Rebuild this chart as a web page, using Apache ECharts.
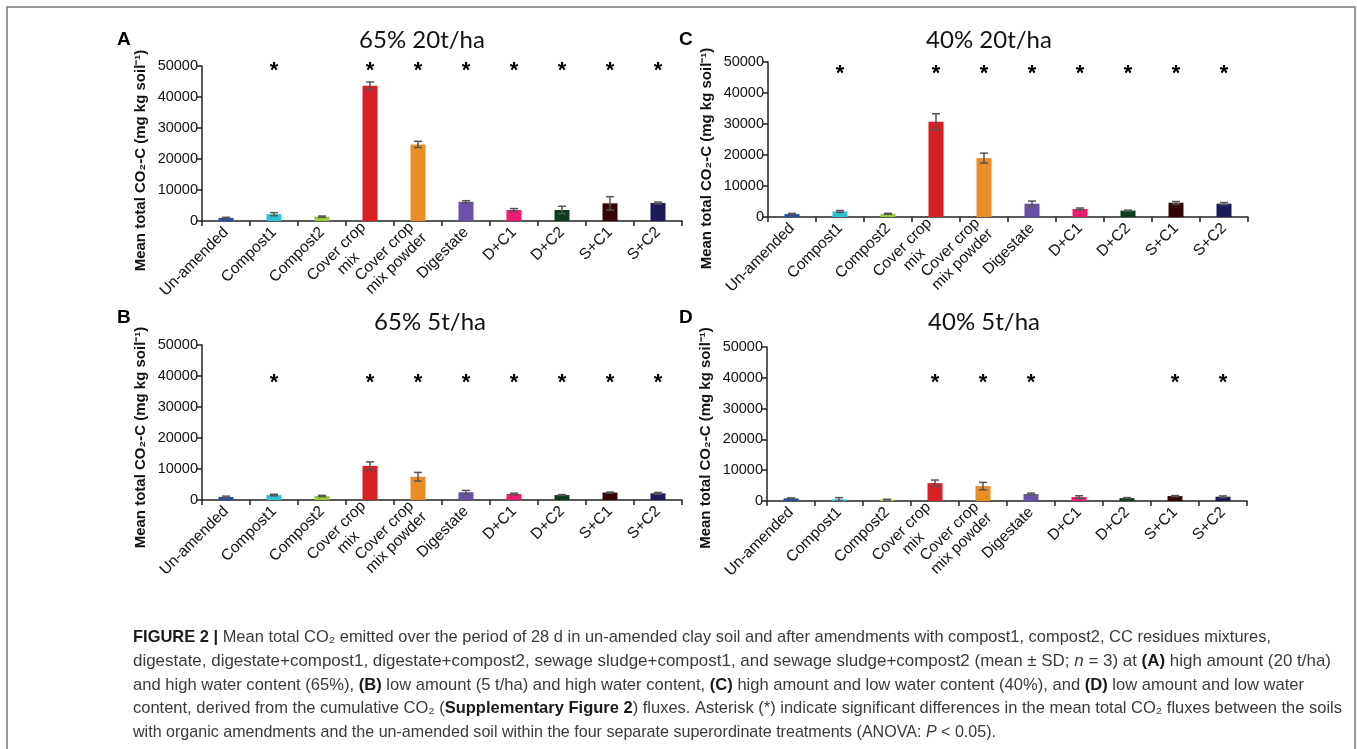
<!DOCTYPE html>
<html><head><meta charset="utf-8">
<script src="https://cdn.jsdelivr.net/npm/echarts@6/dist/echarts.min.js"></script>
<style>html,body{margin:0;padding:0;background:#fff}#c{width:1357px;height:749px}</style>
</head><body><div id="c"></div>
<script>
// ---------- data ----------
const categories = ['Un-amended','Compost1','Compost2','Cover crop mix','Cover crop mix powder','Digestate','D+C1','D+C2','S+C1','S+C2'];
const tickLabels = ['Un-amended','Compost1','Compost2','Cover crop\nmix','Cover crop\nmix powder','Digestate','D+C1','D+C2','S+C1','S+C2'];
const yTicks = [0, 10000, 20000, 30000, 40000, 50000];
const barColors = ['#1d4fa2','#2fc4d5','#9bc93c','#d91f26','#e98d27','#6a50a6','#ec1c6e','#0e3d1e','#360607','#1c1b57'];

// A: 65% 20t/ha
const meanA = [1000, 2200, 1400, 43600, 24700, 6200, 3550, 3550, 5700, 5800];
const sdA   = [200, 500, 200, 1250, 1000, 350, 450, 1200, 2150, 300];
const sigA  = [0,1,0,1,1,1,1,1,1,1];
// B: 65% 5t/ha
const meanB = [1000, 1600, 1300, 11000, 7500, 2500, 1950, 1600, 2400, 2150];
const sdB   = [250, 250, 200, 1300, 1400, 600, 250, 150, 150, 300];
const sigB  = [0,1,0,1,1,1,1,1,1,1];
// C: 40% 20t/ha
const meanC = [950, 1800, 1050, 30700, 19000, 4300, 2600, 2050, 4600, 4300];
const sdC   = [200, 300, 150, 2600, 1600, 850, 300, 150, 400, 350];
const sigC  = [0,1,0,1,1,1,1,1,1,1];
// D: 40% 5t/ha
const meanD = [850, 550, 450, 5800, 4850, 2250, 1300, 950, 1600, 1400];
const sdD   = [150, 550, 100, 1000, 1200, 300, 400, 150, 150, 250];
const sigD  = [0,0,0,1,1,1,0,0,1,1];

const panelTitles = ['65% 20t/ha', '65% 5t/ha', '40% 20t/ha', '40% 5t/ha'];
const panelLetters = ['A', 'B', 'C', 'D'];
const yAxisName = 'Mean total CO\u2082-C (mg kg soil\u207B\u00B9)';

const captionLines = [
  [['FIGURE 2 |','b'],[' Mean total CO\u2082 emitted over the period of 28 d in un-amended clay soil and after amendments with compost1, compost2, CC residues mixtures,','r']],
  [['digestate, digestate+compost1, digestate+compost2, sewage sludge+compost1, and sewage sludge+compost2 (mean \u00B1 SD; ','r'],['n','i'],[' = 3) at ','r'],['(A)','b'],[' high amount (20 t/ha)','r']],
  [['and high water content (65%), ','r'],['(B)','b'],[' low amount (5 t/ha) and high water content, ','r'],['(C)','b'],[' high amount and low water content (40%), and ','r'],['(D)','b'],[' low amount and low water','r']],
  [['content, derived from the cumulative CO\u2082 (','r'],['Supplementary Figure 2','b'],[') fluxes. Asterisk (*) indicate significant differences in the mean total CO\u2082 fluxes between the soils','r']],
  [['with organic amendments and the un-amended soil within the four separate superordinate treatments (ANOVA: ','r'],['P','i'],[' < 0.05).','r']]
];

// ---------- layout ----------
const panels = [
  {mean: meanA, sd: sdA, sig: sigA, grid:{left:202, top:66, width:480, height:155}, title:[422,40], letter:[117,40], shift:17, star:48400},
  {mean: meanB, sd: sdB, sig: sigB, grid:{left:202, top:345, width:480, height:155}, title:[430,322], letter:[117,318], shift:15, star:37700},
  {mean: meanC, sd: sdC, sig: sigC, grid:{left:768, top:62, width:480, height:155}, title:[989,40], letter:[679,40], shift:19, star:46000},
  {mean: meanD, sd: sdD, sig: sigD, grid:{left:767, top:347, width:480, height:154}, title:[984,322], letter:[679,318], shift:14, star:38300}
];
const captionX = 133;
const captionY = [637, 661, 685, 708, 732];
const captionRight = [1271, 1331, 1304, 1342, 996];
const captionSize = 17;
const capFamily = '"Liberation Sans", Arial, sans-serif';
const axisFont = '"Liberation Sans", Arial, sans-serif';

const chart = echarts.init(document.getElementById('c'), null, {renderer:'canvas'});

const grids = [], xAxes = [], yAxes = [], series = [], titles = [], graphics = [];
const axisColor = '#222';

panels.forEach((p, i) => {
  grids.push(Object.assign({}, p.grid));
  xAxes.push({
    type:'category', gridIndex:i, data: categories,
    axisLine:{lineStyle:{color:axisColor, width:1.5}},
    axisTick:{show:true, length:5, interval:0, alignWithLabel:false, lineStyle:{color:axisColor, width:1.5}},
    axisLabel:{
      interval:0, rotate:45, margin:9, color:'#111', fontSize:15.5, fontFamily:axisFont, lineHeight:17,
      formatter: (v, idx) => {
        const t = tickLabels[idx];
        if (t.indexOf('\n') < 0) return t;
        return t.split('\n').map(s => '{c|' + s + '}').join('\n');
      },
      rich:{c:{width:78, align:'center', fontSize:15.5, fontFamily:axisFont, color:'#111', lineHeight:17}}
    },
    splitLine:{show:false}
  });
  yAxes.push({
    type:'value', gridIndex:i, min:yTicks[0], max:yTicks[yTicks.length-1], interval:yTicks[1]-yTicks[0],
    axisLine:{show:true, lineStyle:{color:axisColor, width:1.5}},
    axisTick:{show:true, length:5, lineStyle:{color:axisColor, width:1.5}},
    axisLabel:{color:'#111', fontSize:14.5, fontFamily:axisFont, margin:4, formatter: v => String(v)},
    splitLine:{show:false},
    name: yAxisName, nameLocation:'middle', nameGap:54,
    nameTextStyle:{fontWeight:'bold', fontSize:15, color:'#111', fontFamily:axisFont, padding:[0, p.shift*2, 0, 0]}
  });
  series.push({
    type:'bar', xAxisIndex:i, yAxisIndex:i, barWidth:15,
    data: p.mean.map((v, k) => ({value:v, itemStyle:{color:barColors[k]}})),
    z:2
  });
  series.push({
    type:'custom', xAxisIndex:i, yAxisIndex:i, z:3,
    data: p.mean.map((v, k) => [k, v, p.sd[k]]),
    encode:{x:0, y:1},
    renderItem: (params, api) => {
      const x = api.value(0), m = api.value(1), s = api.value(2);
      const top = api.coord([x, m + s]), bot = api.coord([x, m - s]);
      const hw = 4, st = {stroke:'#555', lineWidth:1.5};
      return {type:'group', children:[
        {type:'line', shape:{x1:top[0], y1:top[1], x2:bot[0], y2:bot[1]}, style:st},
        {type:'line', shape:{x1:top[0]-hw, y1:top[1], x2:top[0]+hw, y2:top[1]}, style:st},
        {type:'line', shape:{x1:bot[0]-hw, y1:bot[1], x2:bot[0]+hw, y2:bot[1]}, style:st}
      ]};
    }
  });
  series.push({
    type:'scatter', xAxisIndex:i, yAxisIndex:i, symbolSize:1, z:4,
    itemStyle:{color:'rgba(0,0,0,0)'},
    data: p.sig.map((s, k) => s ? [k, p.star] : null).filter(d => d),
    label:{show:true, position:'inside', formatter:'*', fontSize:22, fontWeight:'bold', color:'#000', fontFamily:axisFont, opacity:1},
    emphasis:{disabled:true},
    silent:true
  });
  titles.push({
    text: panelTitles[i], left: p.title[0], top: p.title[1], textAlign:'center', textVerticalAlign:'middle', padding:0,
    textStyle:{fontFamily:'Lato, "Open Sans", sans-serif', fontSize:24, fontWeight:'normal', color:'#111'}
  });
  graphics.push({
    type:'text', x:p.letter[0], y:p.letter[1],
    style:{text:panelLetters[i], font:'bold 19px ' + axisFont, fill:'#000', verticalAlign:'middle'}
  });
});

// caption
const mctx = document.createElement('canvas').getContext('2d');
function fontFor(st) {
  return (st === 'i' ? 'italic ' : '') + (st === 'b' ? 'bold ' : '') + captionSize + 'px ' + capFamily;
}
captionLines.forEach((segs, li) => {
  let w = 0;
  segs.forEach(([t, st]) => { mctx.font = fontFor(st); w += mctx.measureText(t).width; });
  const sx = (captionRight[li] - captionX) / w;
  graphics.push({
    type:'text', x:captionX, y:captionY[li], scaleX:sx, scaleY:1,
    style:{
      text: segs.map(([t, st]) => '{' + st + '|' + t + '}').join(''),
      verticalAlign:'middle',
      rich:{
        r:{fontSize:captionSize, fontFamily:capFamily, fill:'#3a3a3a'},
        b:{fontSize:captionSize, fontFamily:capFamily, fontWeight:'bold', fill:'#1a1a1a'},
        i:{fontSize:captionSize, fontFamily:capFamily, fontStyle:'italic', fill:'#3a3a3a'}
      }
    }
  });
});
// frame
graphics.push({
  type:'rect', shape:{x:7, y:7, width:1348, height:800},
  style:{fill:'none', stroke:'#7a7a7a', lineWidth:1.5}, z:-1
});

chart.setOption({
  backgroundColor:'#fff',
  animation:false,
  title: titles,
  grid: grids,
  xAxis: xAxes,
  yAxis: yAxes,
  series: series,
  graphic: graphics
});
</script>
</body></html>
